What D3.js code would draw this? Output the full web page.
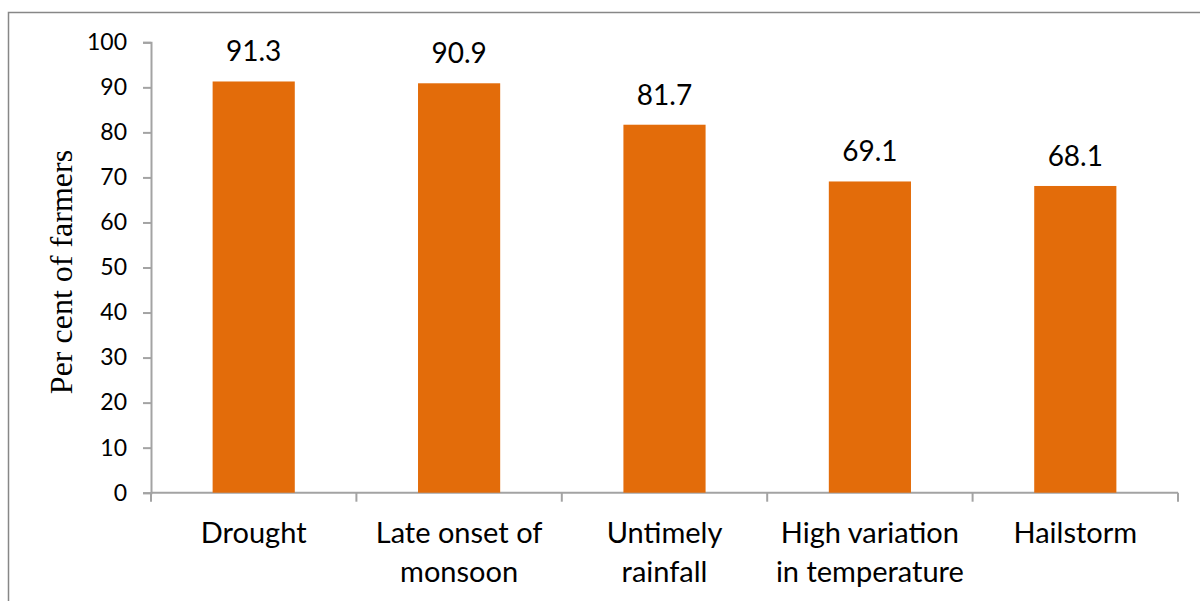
<!DOCTYPE html>
<html>
<head>
<meta charset="utf-8">
<script src="https://cdn.jsdelivr.net/npm/d3@7"></script>
<style>
  html, body { margin: 0; padding: 0; background: #fff; }
  svg { display: block; }
</style>
</head>
<body>
<script>
// Climate risks reported by farmers
const categories = [["Drought"], ["Late onset of", "monsoon"], ["Untimely", "rainfall"], ["High variation", "in temperature"], ["Hailstorm"]];
const categoryKeys = ["Drought", "Late onset of monsoon", "Untimely rainfall", "High variation in temperature", "Hailstorm"];
const values = [91.3, 90.9, 81.7, 69.1, 68.1];
const yTicks = [0, 10, 20, 30, 40, 50, 60, 70, 80, 90, 100];
const yTitle = "Per cent of farmers";

const W = 1200, H = 601;
const svg = d3.select("body").append("svg").attr("width", W).attr("height", H);

// outer chart frame
svg.append("rect")
  .attr("x", 8.5).attr("y", 12.5)
  .attr("width", W + 10).attr("height", H + 10)
  .attr("fill", "none").attr("stroke", "#878787").attr("stroke-width", 1.5);

const x0 = 151, x1 = 1178, yTop = 42.3, yBot = 492.7;

const x = d3.scaleBand().domain(categoryKeys).range([x0, x1]).paddingInner(0.6).paddingOuter(0.3);
const y = d3.scaleLinear().domain([0, 100]).range([yBot, yTop]);

const axisColor = "#a3a3a3";
const sans = "Lato, 'Open Sans', sans-serif";

// y axis
const yAxis = svg.append("g").attr("transform", `translate(${x0},0)`)
  .call(d3.axisLeft(y).tickValues(yTicks).tickSize(8).tickPadding(16));
yAxis.select(".domain").attr("stroke", axisColor).attr("stroke-width", 2);
yAxis.selectAll(".tick line").attr("stroke", axisColor).attr("stroke-width", 2);
yAxis.selectAll(".tick text")
  .attr("font-family", sans).attr("font-size", 23).attr("fill", "#000");

// x axis baseline with category separators
const xAxisG = svg.append("g");
xAxisG.append("line")
  .attr("x1", x0).attr("x2", x1).attr("y1", yBot).attr("y2", yBot)
  .attr("stroke", axisColor).attr("stroke-width", 2);
const sepX = d3.range(categoryKeys.length + 1).map(i => x0 + i * (x1 - x0) / categoryKeys.length);
xAxisG.selectAll("line.sep").data(sepX).join("line")
  .attr("class", "sep")
  .attr("x1", d => d).attr("x2", d => d)
  .attr("y1", yBot).attr("y2", yBot + 9)
  .attr("stroke", axisColor).attr("stroke-width", 2);

// bars
svg.append("g").selectAll("rect").data(values).join("rect")
  .attr("x", (d, i) => x(categoryKeys[i]))
  .attr("width", x.bandwidth())
  .attr("y", d => y(d))
  .attr("height", d => y(0) - y(d))
  .attr("fill", "#e36c0a");

// value labels
svg.append("g").selectAll("text").data(values).join("text")
  .attr("x", (d, i) => x(categoryKeys[i]) + x.bandwidth() / 2)
  .attr("y", d => y(d) - 20)
  .attr("text-anchor", "middle")
  .attr("font-family", sans).attr("font-size", 28).attr("fill", "#000")
  .text(d => d.toFixed(1));

// category labels (wrapped)
const catG = svg.append("g").selectAll("text").data(categories).join("text")
  .attr("x", (d, i) => x(categoryKeys[i]) + x.bandwidth() / 2)
  .attr("y", 543)
  .attr("text-anchor", "middle")
  .attr("font-family", sans).attr("font-size", 29).attr("fill", "#000");
catG.selectAll("tspan").data(d => d).join("tspan")
  .attr("x", function () { return d3.select(this.parentNode).attr("x"); })
  .attr("dy", (d, i) => i === 0 ? 0 : 39)
  .text(d => d);

// y axis title
svg.append("text")
  .attr("transform", `translate(72,272) rotate(-90)`)
  .attr("text-anchor", "middle")
  .attr("font-family", "'Liberation Serif', 'Times New Roman', serif")
  .attr("font-size", 32).attr("fill", "#000")
  .text(yTitle);
</script>
</body>
</html>
